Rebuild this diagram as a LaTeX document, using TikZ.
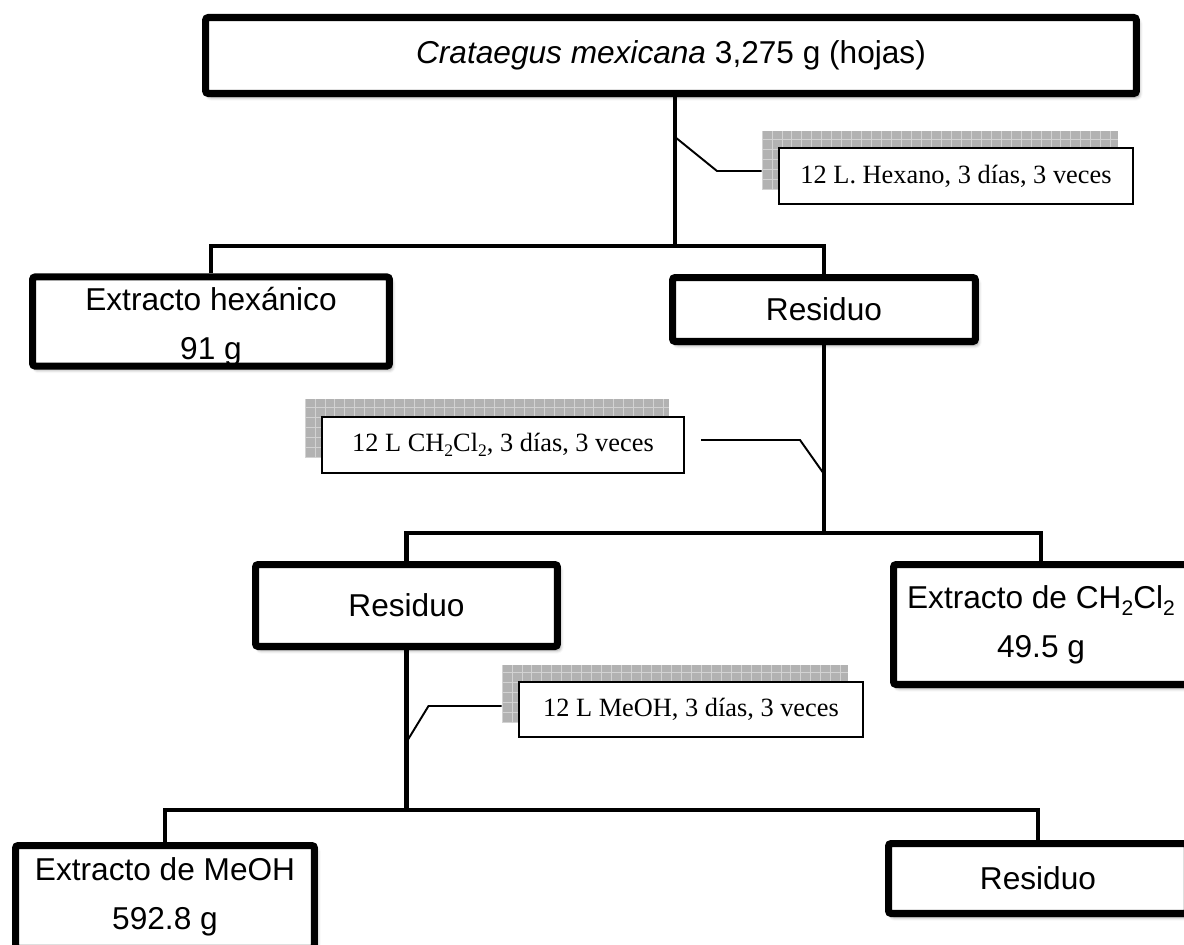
\documentclass[tikz,border=0pt]{standalone}
\usepackage{fontspec}
\setmainfont{Liberation Sans}
\newfontfamily\notefont{Liberation Serif}
\usetikzlibrary{shadows, shadows.blur, positioning, calc}

% subindice: tamano, texto
\newcommand{\subi}[2]{\raisebox{-0.45ex}{\fontsize{#1}{#1}\selectfont #2}}

\tikzset{
  caja/.style={draw, line width=4pt, fill=white, rounded corners=1.5pt, align=center, inner sep=0pt,
    blur shadow={shadow xshift=1.5pt, shadow yshift=-2pt, shadow blur radius=2pt, shadow opacity=45},
    font=\fontsize{18}{28}\selectfont},
  nota/.style={draw, line width=1pt, fill=white, inner sep=0pt,
    font=\notefont\fontsize{15}{18}\selectfont},
  sombra/.style={fill=gray!60, inner sep=0pt,
    path picture={
      \foreach \k in {0,...,40}
        \draw[gray!35, line width=0.5pt] ([xshift=\k*5.67pt]path picture bounding box.south west) -- ([xshift=\k*5.67pt]path picture bounding box.north west);
      \foreach \k in {0,...,7}
        \draw[gray!35, line width=0.5pt] ([yshift=\k*5.67pt]path picture bounding box.south west) -- ([yshift=\k*5.67pt]path picture bounding box.south east);
    }},
  linea/.style={line width=2.5pt},
  guia/.style={line width=1.1pt}
}

\begin{document}
\begin{tikzpicture}[x=0.02cm, y=-0.02cm]

  \useasboundingbox (0,0) rectangle (1184,944);
  \clip (0,0) rectangle (1184,944);

  % Cajas
  \node[caja, minimum width=18.62cm, minimum height=1.52cm] (planta) at (671,55.5)
    {\textit{Crataegus mexicana} 3,275 g (hojas)};
  \node[caja, minimum width=7.14cm, minimum height=1.72cm] (hex) at (211,321.5)
    {\rule{0pt}{19pt}Extracto hexánico\\91 g};
  \node[caja, minimum width=6.06cm, minimum height=1.28cm] (res1) at (824,309.5) {Residuo};
  \node[caja, minimum width=6.04cm, minimum height=1.64cm] (res2) at (406.5,605.5) {Residuo};
  \node[caja, minimum width=5.9cm, minimum height=2.4cm] (dcm) at (1041,624.5)
    {Extracto de CH\subi{12}{2}Cl\subi{12}{2}\\49.5 g};
  \node[caja, minimum width=5.98cm, minimum height=2.06cm] (meoh) at (165,897)
    {Extracto de MeOH\\592.8 g};
  \node[caja, minimum width=5.98cm, minimum height=1.4cm] (res3) at (1038,878.5) {Residuo};

  % Notas con sombra cuadriculada
  \node[sombra, minimum width=7.12cm, minimum height=1.16cm] (n1s) at (940,160) {};
  \node[nota, minimum width=7.08cm, minimum height=1.12cm] (n1) at (956,176)
    {12 L. Hexano, 3 días, 3 veces};
  \node[sombra, minimum width=7.28cm, minimum height=1.16cm] (n2s) at (487,428) {};
  \node[nota, minimum width=7.24cm, minimum height=1.12cm] (n2) at (503,445)
    {12 L CH\subi{10}{2}Cl\subi{10}{2}, 3 días, 3 veces};
  \node[sombra, minimum width=6.92cm, minimum height=1.16cm] (n3s) at (675,693.5) {};
  \node[nota, minimum width=6.88cm, minimum height=1.1cm] (n3) at (691,709.5)
    {12 L MeOH, 3 días, 3 veces};

  % Conexiones
  \coordinate (t1) at (675,246);
  \coordinate (t2) at (824,533);
  \coordinate (t3) at (406.5,810);
  \draw[linea] (planta.south -| t1) -- (t1);
  \draw[linea] (hex.north) |- (t1) -| (res1.north);
  \draw[linea] (res1.south) -- (t2);
  \draw[linea] (res2.north) |- (t2) -| (dcm.north);
  \draw[linea] (res2.south) -- (t3);
  \draw[linea] (meoh.north) |- (t3) -| (res3.north);

  % Guias de las notas
  \coordinate (k1) at (675,137);
  \coordinate (k2) at (824,474);
  \coordinate (k3) at (406.5,742);
  \draw[guia] (k1) -- ++(42,34) coordinate (k1b) -- (k1b -| n1s.west);
  \draw[guia] (k2) -- ++(-24,-34) coordinate (k2b) -- ++(-99,0);
  \draw[guia] (k3) -- ++(22,-36) coordinate (k3b) -- (k3b -| n3s.west);

\end{tikzpicture}
\end{document}
